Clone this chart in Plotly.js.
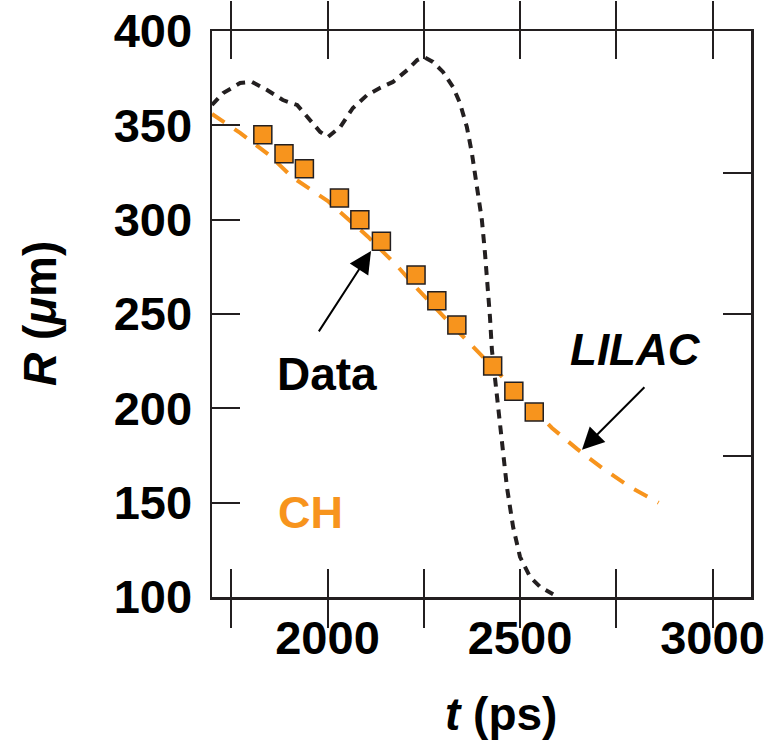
<!DOCTYPE html>
<html>
<head>
<meta charset="utf-8">
<script src="https://cdn.plot.ly/plotly-3.0.1.min.js"></script>
<style>html,body{margin:0;padding:0;background:#fff;}#chart{width:776px;height:742px;}</style>
</head>
<body>
<div id="chart"></div>
<script>
// Measured data (CH target)
const dataT = [1832, 1887, 1940, 2031, 2084, 2140, 2230, 2284, 2336, 2429, 2484, 2537];
const dataR = [345, 335, 327, 311.5, 300, 288.5, 270.7, 257, 244.2, 222.4, 209, 198];

// LILAC simulated radius
const lilacT = [1700, 1773, 1850, 1908, 2000, 2105, 2183, 2235, 2300, 2404, 2500, 2583, 2648, 2713, 2786, 2860];
const lilacR = [356, 346, 334, 322.6, 310, 291, 275, 263, 249, 227, 207, 189.6, 178.5, 168.4, 158.3, 150];

// Black dotted curve
const dotT = [1700, 1729, 1773, 1804, 1843, 1884, 1921, 1947, 1981, 2001, 2033, 2066, 2103, 2136, 2170, 2207, 2233, 2251, 2274, 2300, 2326, 2344, 2362, 2375, 2388, 2401, 2409, 2417, 2422, 2427, 2440, 2453, 2466, 2482, 2500, 2526, 2552, 2586];
const dotR = [360.8, 367.1, 372.4, 373, 368.7, 363.4, 360.8, 354.4, 346.5, 343.8, 349.1, 359.2, 366.1, 369.8, 373, 379.3, 384.6, 386.2, 383.6, 378.3, 370.3, 361.8, 349.1, 335.3, 317.3, 299.8, 282.4, 264.3, 248.4, 231, 206, 181.7, 158.3, 137.2, 121.3, 110.7, 105.4, 101.5];

const xTickVals = [1750, 2000, 2250, 2500, 2750, 3000];
const xTickText = ['', '2000', '', '2500', '', '3000'];
const yTickVals = [100, 150, 200, 250, 300, 350, 400];
const yRightTicks = [175, 250, 325];

const ORANGE = '#F7941D';
const INK = '#231F20';
const FONT = 'Liberation Sans, Arial, Helvetica, sans-serif';

const traces = [
  {x: dotT, y: dotR, mode: 'lines', line: {color: INK, width: 4, dash: '9px,7px'}, hoverinfo: 'skip'},
  {x: lilacT, y: lilacR, mode: 'lines', line: {color: ORANGE, width: 4, dash: '15px,12px'}, hoverinfo: 'skip'},
  {x: dataT, y: dataR, mode: 'markers', marker: {symbol: 'square', size: 18, color: ORANGE, line: {color: INK, width: 1.5}}},
  {x: [1700], y: [100], yaxis: 'y2', mode: 'markers', marker: {opacity: 0}, hoverinfo: 'skip'}
];

const titleFont = {family: FONT, size: 46, weight: 'bold', color: '#000'};

const layout = {
  width: 776, height: 742,
  margin: {l: 212, r: 25, t: 31, b: 145},
  paper_bgcolor: '#fff', plot_bgcolor: '#fff',
  showlegend: false,
  font: {family: FONT, color: '#000', size: 46, weight: 'bold'},
  xaxis: {
    range: [1700, 3100], tickvals: xTickVals, ticktext: xTickText,
    ticks: 'inside', ticklen: 28, tickwidth: 2, tickcolor: INK,
    showline: true, linecolor: INK, linewidth: 2.5, mirror: 'allticks',
    showgrid: false, zeroline: false,
    tickfont: {family: FONT, size: 47, weight: 'bold', color: '#000'},
    ticklabelstandoff: -2
  },
  yaxis: {
    range: [100, 400], tickvals: yTickVals,
    ticks: 'inside', ticklen: 28, tickwidth: 2, tickcolor: INK,
    showline: true, linecolor: INK, linewidth: 2.5, mirror: true,
    showgrid: false, zeroline: false,
    tickfont: {family: FONT, size: 47, weight: 'bold', color: '#000'},
    ticklabelstandoff: 8
  },
  yaxis2: {
    range: [100, 400], overlaying: 'y', side: 'right', tickvals: yRightTicks,
    ticks: 'inside', ticklen: 28, tickwidth: 2, tickcolor: INK,
    showticklabels: false, showline: false, showgrid: false, zeroline: false
  },
  annotations: [
    // axis titles
    {x: (501 - 212) / 539, y: -(714 - 597) / 566, xref: 'paper', yref: 'paper',
     xanchor: 'center', yanchor: 'middle', text: '<i>t</i> (ps)', showarrow: false, font: titleFont},
    {x: -(212 - 40) / 539, y: 0.5, xref: 'paper', yref: 'paper', textangle: -90,
     xanchor: 'center', yanchor: 'middle', text: '<i>R</i> (<i>μ</i>m)', showarrow: false, font: titleFont},
    // labels
    {x: 1999, y: 218, xref: 'x', yref: 'y', text: 'Data', showarrow: false,
     font: {family: FONT, size: 46, weight: 'bold', color: '#000'}},
    {x: 2799, y: 231, xref: 'x', yref: 'y', text: '<i>LILAC</i>', showarrow: false,
     font: {family: FONT, size: 44, weight: 'bold', color: '#000'}},
    {x: 1955, y: 145, xref: 'x', yref: 'y', text: 'CH', showarrow: false,
     font: {family: FONT, size: 45, weight: 'bold', color: ORANGE}},
    // arrows
    {x: 2113, y: 283.4, ax: 1975, ay: 240, xref: 'x', yref: 'y', axref: 'x', ayref: 'y',
     text: '', showarrow: true, arrowhead: 2, arrowsize: 2.2, arrowwidth: 2, arrowcolor: '#000', standoff: 0},
    {x: 2661, y: 178, ax: 2827, ay: 212, xref: 'x', yref: 'y', axref: 'x', ayref: 'y',
     text: '', showarrow: true, arrowhead: 2, arrowsize: 2.2, arrowwidth: 2, arrowcolor: '#000', standoff: 0}
  ]
};

Plotly.newPlot('chart', traces, layout, {displayModeBar: false, staticPlot: true});
</script>
</body>
</html>
